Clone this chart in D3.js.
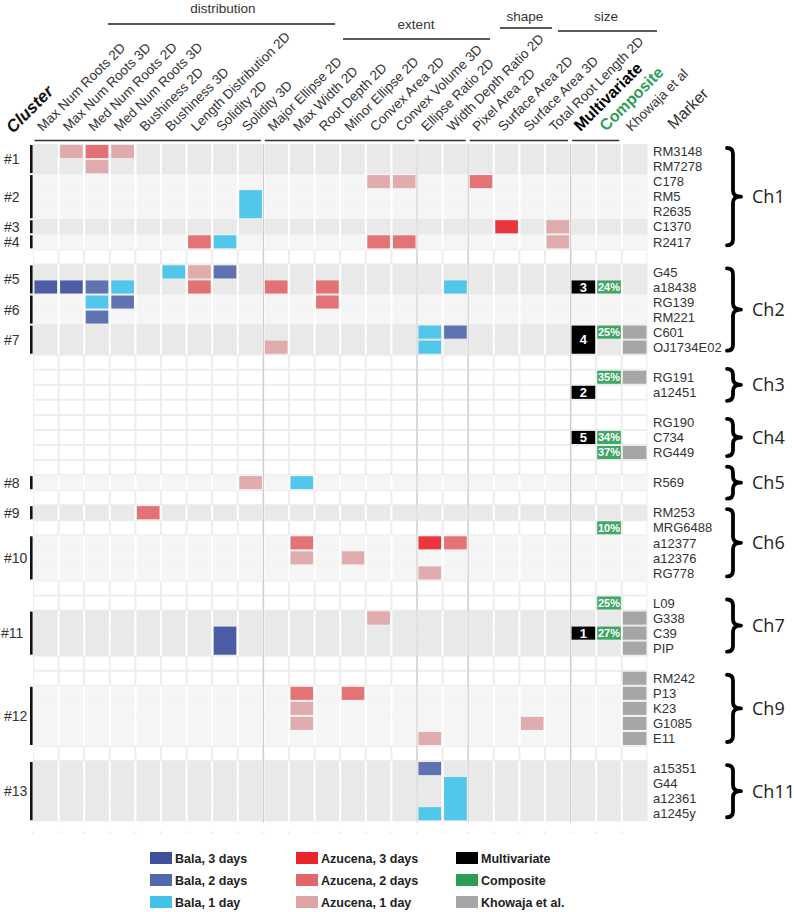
<!DOCTYPE html>
<html><head><meta charset="utf-8">
<script src="https://cdn.jsdelivr.net/npm/d3@7"></script>
<style>body{margin:0;background:#fff}svg{display:block}</style>
</head><body><svg id="chart" width="794" height="912"></svg>
<script>
// ---------------- DATA ----------------
const traitColumns = ["Max Num Roots 2D","Max Num Roots 3D","Med Num Roots 2D","Med Num Roots 3D",
  "Bushiness 2D","Bushiness 3D","Length Distribution 2D","Solidity 2D","Solidity 3D",
  "Major Ellipse 2D","Max Width 2D","Root Depth 2D","Minor Ellipse 2D","Convex Area 2D","Convex Volume 3D",
  "Ellipse Ratio 2D","Width Depth Ratio 2D",
  "Pixel Area 2D","Surface Area 2D","Surface Area 3D","Total Root Length 2D"];
const extraColumns = ["Multivariate","Composite","Khowaja et al"];
const groupNames = ["distribution","extent","shape","size"];
const groupFirstCol = [0, 9, 15, 17];
const groupLastCol = [8, 14, 16, 20];

const markers = ["RM3148","RM7278","C178","RM5","R2635","C1370","R2417","",
  "G45","a18438","RG139","RM221","C601","OJ1734E02","",
  "RG191","a12451","","RG190","C734","RG449","","R569","",
  "RM253","MRG6488","a12377","a12376","RG778","",
  "L09","G338","C39","PIP","",
  "RM242","P13","K23","G1085","E11","",
  "a15351","G44","a12361","a1245y"];

const clusterNames = ["#1","#2","#3","#4","#5","#6","#7","#8","#9","#10","#11","#12","#13"];
const clusterFirstRow = [0, 2, 5, 6, 8, 10, 12, 22, 24, 26, 31, 36, 41];
const clusterLastRow  = [1, 4, 5, 6, 9, 11, 13, 22, 24, 28, 33, 39, 44];

const chrNames = ["Ch1","Ch2","Ch3","Ch4","Ch5","Ch6","Ch7","Ch9","Ch11"];
const chrFirstRow = [0, 8, 15, 18, 22, 24, 30, 35, 41];
const chrLastRow  = [6, 13, 16, 20, 22, 28, 33, 39, 44];

// QTL cells: [row, traitColumn, type, rowSpan]
const qtlCells = [
  [0,1,"A1",1],[0,2,"A2",1],[0,3,"A1",1],
  [1,2,"A1",1],
  [2,13,"A1",1],[2,14,"A1",1],[2,17,"A2",1],
  [3,8,"B1",2],
  [5,18,"A3",1],[5,20,"A1",1],
  [6,6,"A2",1],[6,7,"B1",1],[6,13,"A2",1],[6,14,"A2",1],[6,20,"A1",1],
  [8,5,"B1",1],[8,6,"A1",1],[8,7,"B2",1],
  [9,0,"B3",1],[9,1,"B3",1],[9,2,"B2",1],[9,3,"B1",1],[9,6,"A2",1],[9,9,"A2",1],[9,11,"A2",1],[9,16,"B1",1],
  [10,2,"B1",1],[10,3,"B2",1],[10,11,"A2",1],
  [11,2,"B2",1],
  [12,15,"B1",1],[12,16,"B2",1],
  [13,9,"A1",1],[13,15,"B1",1],
  [22,8,"A1",1],[22,10,"B1",1],
  [24,4,"A2",1],
  [26,10,"A2",1],[26,15,"A3",1],[26,16,"A2",1],
  [27,10,"A1",1],[27,12,"A1",1],
  [28,15,"A1",1],
  [31,13,"A1",1],
  [32,7,"B3",2],
  [36,10,"A2",1],[36,12,"A2",1],
  [37,10,"A1",1],
  [38,10,"A1",1],[38,19,"A1",1],
  [39,15,"A1",1],
  [41,15,"B2",1],
  [42,16,"B1",3],
  [44,15,"B1",1]
];

const multiRows = [9, 12, 16, 19, 32];
const multiSpan = [1, 2, 1, 1, 1];
const multiValues = [3, 4, 2, 5, 1];

const compositeRows = [9, 12, 15, 19, 20, 25, 30, 32];
const compositeValues = [24, 25, 35, 34, 37, 10, 25, 27];

const khowajaRows = [12, 13, 15, 20, 31, 32, 33, 35, 36, 37, 38, 39];

const legendKeys = ["B3","B2","B1","A3","A2","A1","M","C","K"];
const legendLabels = ["Bala, 3 days","Bala, 2 days","Bala, 1 day",
  "Azucena, 3 days","Azucena, 2 days","Azucena, 1 day",
  "Multivariate","Composite","Khowaja et al."];

// ---------------- STYLE / LAYOUT ----------------
const colors = {B3:"#3f509e", B2:"#5268ad", B1:"#42c2ea", A3:"#e8262d", A2:"#e2676a", A1:"#dea5a6",
  M:"#000000", C:"#2b9f55", K:"#a6a6a6"};
const FONT = "'Liberation Sans', Arial, Helvetica, sans-serif";
const svg = d3.select("#chart");

const allColumns = traitColumns.concat(extraColumns);
const x = d3.scaleBand().domain(d3.range(allColumns.length)).range([33, 647.4]).padding(0);
const y = d3.scaleBand().domain(d3.range(markers.length)).range([144, 144 + markers.length * 15.05]).padding(0);
const bw = x.bandwidth(), rh = y.bandwidth();
const gridLeft = x.range()[0], gridRight = x.range()[1];
const gridTop = y.range()[0], gridBottom = y.range()[1];

// band membership
const rowBand = markers.map(() => null);
clusterNames.forEach((c, i) => {
  for (let r = clusterFirstRow[i]; r <= clusterLastRow[i]; r++) rowBand[r] = (i % 2 === 0) ? "#e9e9e9" : "#f5f5f5";
});

const grid = svg.append("g");
grid.append("rect").attr("x", gridLeft).attr("y", gridTop).attr("width", gridRight - gridLeft)
  .attr("height", gridBottom - gridTop).attr("fill", "#ededed");

markers.forEach((m, r) => {
  if (rowBand[r]) {
    grid.append("rect").attr("x", gridLeft).attr("y", y(r)).attr("width", gridRight - gridLeft)
      .attr("height", rh).attr("fill", rowBand[r]);
    allColumns.forEach((c, ci) => {
      if (ci > 0) grid.append("rect").attr("x", x(ci) - 1).attr("y", y(r)).attr("width", 2)
        .attr("height", rh).attr("fill", "#ffffff");
    });
  } else {
    allColumns.forEach((c, ci) => {
      grid.append("rect").attr("x", x(ci) + 1).attr("y", y(r) + 1).attr("width", bw - 2)
        .attr("height", rh - 2).attr("fill", "#ffffff");
    });
  }
});

// group separators
[groupFirstCol[1], groupFirstCol[2], groupFirstCol[3], traitColumns.length].forEach(ci => {
  grid.append("line").attr("x1", x(ci)).attr("x2", x(ci)).attr("y1", gridTop).attr("y2", gridBottom + 1)
    .attr("stroke", "#cdcdcd").attr("stroke-width", 1.2);
});

// faint tick marks below grid
allColumns.forEach((c, ci) => {
  grid.append("rect").attr("x", x(ci) - 1).attr("y", gridBottom + 10).attr("width", 2).attr("height", 2)
    .attr("fill", "#ececec");
});

// QTL cells
svg.append("g").selectAll("rect").data(qtlCells).join("rect")
  .attr("x", d => x(d[1]) + 1.5).attr("width", bw - 3)
  .attr("y", d => y(d[0]) + 1).attr("height", d => rh * d[3] - 2)
  .attr("fill", d => colors[d[2]]).attr("fill-opacity", 0.92);

// Multivariate
const mg = svg.append("g");
multiRows.forEach((r, i) => {
  const ci = traitColumns.length;
  mg.append("rect").attr("x", x(ci) + 1).attr("width", bw - 2).attr("y", y(r) + 1)
    .attr("height", rh * multiSpan[i] - 2).attr("fill", colors.M);
  mg.append("text").attr("x", x(ci) + bw / 2).attr("y", y(r) + rh * multiSpan[i] / 2)
    .attr("dy", "0.36em").attr("text-anchor", "middle").attr("fill", "#fff")
    .attr("font-family", FONT).attr("font-weight", "bold").attr("font-size", 13).text(multiValues[i]);
});
// Composite
compositeRows.forEach((r, i) => {
  const ci = traitColumns.length + 1;
  mg.append("rect").attr("x", x(ci) + 1).attr("width", bw - 2).attr("y", y(r) + 1)
    .attr("height", rh - 2).attr("fill", colors.C).attr("fill-opacity", 0.9);
  mg.append("text").attr("x", x(ci) + bw / 2).attr("y", y(r) + rh / 2)
    .attr("dy", "0.36em").attr("text-anchor", "middle").attr("fill", "#fff")
    .attr("font-family", FONT).attr("font-weight", "bold").attr("font-size", 11).text(compositeValues[i] + "%");
});
// Khowaja
khowajaRows.forEach(r => {
  const ci = traitColumns.length + 2;
  mg.append("rect").attr("x", x(ci) + 1).attr("width", bw - 2).attr("y", y(r) + 1)
    .attr("height", rh - 2).attr("fill", colors.K);
});

// Marker labels
svg.append("g").selectAll("text").data(markers.map((m, r) => [m, r]).filter(d => d[0]))
  .join("text").attr("x", 653).attr("y", d => y(d[1]) + rh / 2).attr("dy", "0.36em")
  .attr("font-family", FONT).attr("font-size", 13).attr("fill", "#333").text(d => d[0]);

// Cluster bars & labels
const cg = svg.append("g");
clusterNames.forEach((c, i) => {
  const top = y(clusterFirstRow[i]) + 1, bot = y(clusterLastRow[i]) + rh - 1;
  cg.append("rect").attr("x", 30).attr("y", top).attr("width", 2.6).attr("height", bot - top).attr("fill", "#111");
  cg.append("text").attr("x", c === "#11" ? 1 : 4).attr("y", (top + bot) / 2).attr("dy", "0.36em")
    .attr("font-family", FONT).attr("font-size", 14).attr("fill", "#333").text(c);
});

// Column header labels
const hg = svg.append("g");
allColumns.forEach((c, ci) => {
  const ax = x(ci) + bw / 2 - 3, ay = 132;
  const t = hg.append("text").attr("transform", `translate(${ax},${ay}) rotate(-45)`)
    .attr("font-family", FONT).text(c);
  if (c === "Multivariate") t.attr("font-weight", "bold").attr("font-size", 16).attr("fill", "#000");
  else if (c === "Composite") t.attr("font-weight", "bold").attr("font-size", 16).attr("fill", colors.C);
  else t.attr("font-size", 13.5).attr("fill", "#333");
});
hg.append("text").attr("transform", `translate(674,130) rotate(-45)`).attr("font-family", FONT)
  .attr("font-size", 16).attr("fill", "#333").text("Marker");
hg.append("text").attr("transform", `translate(13,134) rotate(-45)`).attr("font-family", FONT)
  .attr("font-size", 17).attr("font-weight", "bold").attr("font-style", "italic").attr("fill", "#111").text("Cluster");

// underlines beneath headers
const underl = [[0, 8], [9, 14], [15, 16], [17, 20], [21, 22]];
underl.forEach(([a, b]) => {
  hg.append("line").attr("x1", x(a) + 1.5).attr("x2", x(b) + bw - 2.5).attr("y1", 140.5).attr("y2", 140.5)
    .attr("stroke", "#333").attr("stroke-width", 1.5);
});

// group headers (top)
const groupLayout = [
  {cx: 223, ty: 13, x1: 108, x2: 335, ly: 24},
  {cx: 416, ty: 29, x1: 343, x2: 490, ly: 39},
  {cx: 525, ty: 21, x1: 500, x2: 552, ly: 28},
  {cx: 606, ty: 21, x1: 558, x2: 657, ly: 31}
];
groupNames.forEach((g, i) => {
  const L = groupLayout[i];
  hg.append("text").attr("x", L.cx).attr("y", L.ty).attr("text-anchor", "middle")
    .attr("font-family", FONT).attr("font-size", 13.5).attr("fill", "#333").text(g);
  hg.append("line").attr("x1", L.x1).attr("x2", L.x2).attr("y1", L.ly).attr("y2", L.ly)
    .attr("stroke", "#222").attr("stroke-width", 1.5);
});

// chromosome braces
const bg = svg.append("g");
chrNames.forEach((c, i) => {
  const t0 = y(chrFirstRow[i]), t1 = y(chrLastRow[i]) + rh;
  const mid = (t0 + t1) / 2;
  const half = Math.max((t1 - t0) / 2 - 4, 16);
  const yT = mid - half, yB = mid + half;
  const x0 = 727, xm = 733, tip = 741, r = 6;
  const p = `M${x0},${yT} Q${xm},${yT} ${xm},${yT + r} L${xm},${mid - r} Q${xm},${mid} ${tip},${mid} ` +
            `Q${xm},${mid} ${xm},${mid + r} L${xm},${yB - r} Q${xm},${yB} ${x0},${yB}`;
  bg.append("path").attr("d", p).attr("fill", "none").attr("stroke", "#000").attr("stroke-width", 3.8)
    .attr("stroke-linejoin", "round").attr("stroke-linecap", "round");
  bg.append("text").attr("x", 752).attr("y", mid).attr("dy", "0.36em")
    .attr("font-family", "'Open Sans', 'DejaVu Sans', sans-serif").attr("font-size", 18).attr("fill", "#222").text(c);
});

// legend
const lg = svg.append("g");
const legendColX = [150, 296, 456];
const legendRowY = [852, 874, 896];
legendKeys.forEach((k, i) => {
  const cx = legendColX[Math.floor(i / 3)], ry = legendRowY[i % 3];
  lg.append("rect").attr("x", cx).attr("y", ry).attr("width", 22).attr("height", 12).attr("fill", colors[k]);
  lg.append("text").attr("x", cx + 25).attr("y", ry + 6).attr("dy", "0.36em")
    .attr("font-family", FONT).attr("font-weight", "bold").attr("font-size", 12.5).attr("fill", "#222")
    .text(legendLabels[i]);
});
</script></body></html>
